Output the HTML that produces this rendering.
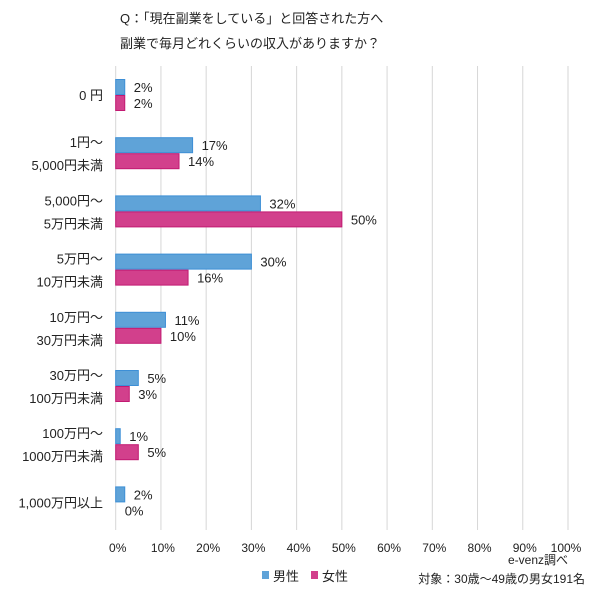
<!DOCTYPE html>
<html><head><meta charset="utf-8">
<style>
html,body{margin:0;padding:0;background:#fff;}
body{width:600px;height:591px;overflow:hidden;font-family:"Liberation Sans","Noto Sans CJK JP",sans-serif;}
svg text{font-family:"Liberation Sans","Noto Sans CJK JP",sans-serif;fill:#222;}
</style></head><body>
<svg width="600" height="591" id="chart">
<text x="120" y="23" font-size="13">Q：「現在副業をしている」と回答された方へ</text>
<text x="120" y="48" font-size="13">副業で毎月どれくらいの収入がありますか？</text>
<g id="grid"></g><g id="bars"></g><g id="labels"></g>
<text x="568" y="564" font-size="12" text-anchor="end">e-venz調べ</text>
<rect x="262" y="571" width="7" height="8" fill="#5fa3d8"/>
<text x="273" y="581" font-size="13">男性</text>
<rect x="311" y="571" width="7" height="8" fill="#d2408c"/>
<text x="322" y="581" font-size="13">女性</text>
<text x="585" y="583" font-size="12" text-anchor="end">対象：30歳〜49歳の男女191名</text>
</svg>
<script>
const categoriesLine1=["0 円","1円〜","5,000円〜","5万円〜","10万円〜","30万円〜","100万円〜","1,000万円以上"];
const categoriesLine2=["","5,000円未満","5万円未満","10万円未満","30万円未満","100万円未満","1000万円未満",""];
const maleValues=[2,17,32,30,11,5,1,2];
const femaleValues=[2,14,50,16,10,3,5,0];
const tickValues=[0,10,20,30,40,50,60,70,80,90,100];
const NS="http://www.w3.org/2000/svg";
const x0=115.7,x1=568,top0=79,pitch=58.2,bh=16;
const xs=v=>x0+(x1-x0)*v/100;
function mk(tag,attrs,parent){const e=document.createElementNS(NS,tag);for(const k in attrs)e.setAttribute(k,attrs[k]);document.getElementById(parent).appendChild(e);return e;}
tickValues.forEach((t,i)=>{
 const l=mk('line',{x1:xs(t),x2:xs(t),y1:66,y2:530,stroke:'#d6d6d6','stroke-width':1},'grid');
 
 
 const tx=mk('text',{x:xs(t)+(t===100?-2:2),y:552,'font-size':12,'text-anchor':'middle'},'grid');
 tx.textContent=t+'%';
 
 
});
categoriesLine1.forEach((c,i)=>{
 const y=top0+i*pitch;
 [[maleValues[i],'#5fa3d8','#3d8fd6','bar-male'],[femaleValues[i],'#d2408c','#c21a72','bar-female']].forEach((s,j)=>{
  const yy=y+j*bh;
  if(s[0]>0){
   const r=mk('rect',{x:x0,y:yy+0.5,width:xs(s[0])-x0,height:bh-1,fill:s[1],stroke:s[2],'stroke-width':1},'bars');
   
   
  }
  const t=mk('text',{x:xs(s[0])+9,y:yy+13,'font-size':13},'labels');
  t.textContent=s[0]+'%';
  
  
 });
 const cy=y+bh;
 const two=categoriesLine2[i]!=='';
 const a=mk('text',{x:103,y:two?cy-6:cy+5,'font-size':13,'text-anchor':'end'},'labels');
 a.textContent=c;
 
 
 if(two){const b=mk('text',{x:103,y:cy+17,'font-size':13,'text-anchor':'end'},'labels');
 b.textContent=categoriesLine2[i];
 
 }
});
</script>
</body></html>
